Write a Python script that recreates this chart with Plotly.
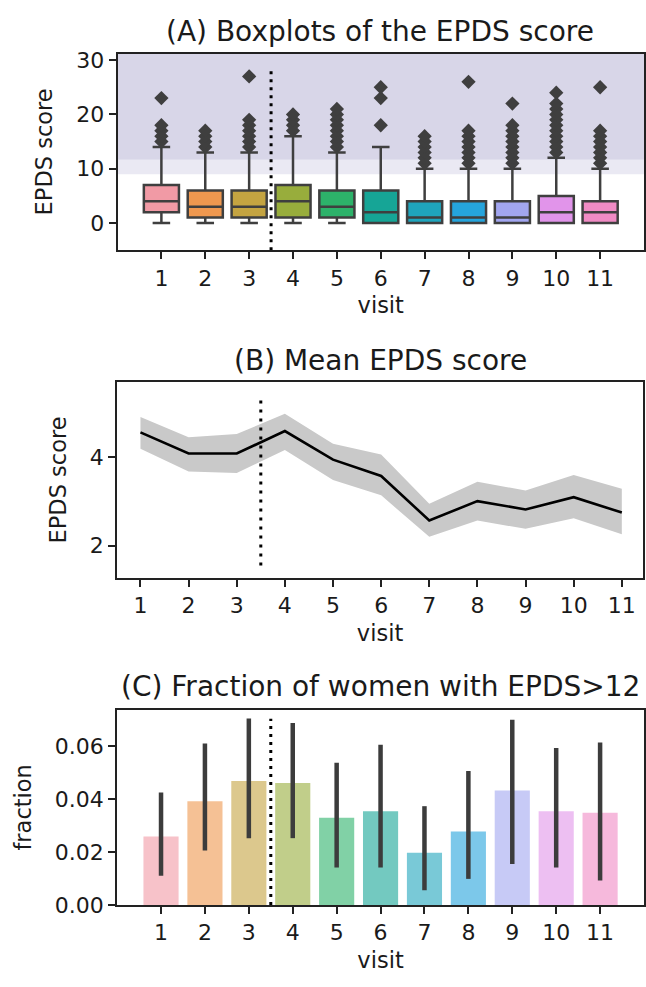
import plotly.graph_objects as go

# ---------------- data ----------------
visits = [1, 2, 3, 4, 5, 6, 7, 8, 9, 10, 11]

# (A) box-plot statistics per visit
box_q1 = [2, 1, 1, 1, 1, 0, 0, 0, 0, 0, 0]
box_median = [4, 3, 3, 4, 3, 2, 1, 1, 1, 2, 2]
box_q3 = [7, 6, 6, 7, 6, 6, 4, 4, 4, 5, 4]
box_low = [0, 0, 0, 0, 0, 0, 0, 0, 0, 0, 0]
box_high = [14, 13, 13, 16, 13, 14, 10, 10, 10, 12, 10]
box_outliers = [
    [15, 16, 17, 18, 23],
    [14, 15, 16, 17],
    [14, 15, 16, 17, 18, 19, 27],
    [17, 18, 19, 20],
    [14, 15, 16, 17, 18, 19, 20, 21],
    [18, 23, 25],
    [11, 12, 13, 14, 15, 16],
    [11, 12, 13, 14, 15, 16, 17, 26],
    [11, 12, 13, 14, 15, 16, 17, 18, 22],
    [13, 14, 15, 16, 17, 18, 19, 20, 21, 22, 24],
    [11, 12, 13, 14, 15, 16, 17, 25],
]
shade_low = 9
shade_high = 11.7

# (B) mean EPDS score with confidence band
mean_score = [4.57, 4.09, 4.09, 4.60, 3.95, 3.58, 2.57, 3.01, 2.82, 3.10, 2.75]
mean_upper = [4.92, 4.46, 4.53, 4.99, 4.31, 4.07, 2.95, 3.45, 3.25, 3.60, 3.29]
mean_lower = [4.20, 3.68, 3.65, 4.17, 3.49, 3.14, 2.20, 2.57, 2.38, 2.62, 2.26]

# (C) fraction of women with EPDS>12 and error-bar limits
frac = [0.0259, 0.0393, 0.0469, 0.0462, 0.0330, 0.0355, 0.0198, 0.0278, 0.0433, 0.0355, 0.0349]
frac_hi = [0.0426, 0.0611, 0.0706, 0.0689, 0.0538, 0.0606, 0.0374, 0.0507, 0.0701, 0.0594, 0.0615]
frac_lo = [0.0111, 0.0206, 0.0253, 0.0253, 0.0142, 0.0142, 0.0056, 0.0099, 0.0155, 0.0142, 0.0093]

yticks_a = [0, 10, 20, 30]
yticks_b = [2, 4]
yticks_c = [0.0, 0.02, 0.04, 0.06]

# ---------------- style ----------------
palette = ['#f19aa5', '#ef984f', '#c4a441', '#98ad3c', '#2db26a', '#16a596',
           '#1fa5bd', '#25a4dc', '#a2a6f0', '#e194ea', '#f08bc4']
EDGE = '#3f3f3f'
FONT = 'DejaVu Sans'
W, H = 646, 987


def rgba(hexc, a):
    h = hexc.lstrip('#')
    r, g, b = int(h[0:2], 16), int(h[2:4], 16), int(h[4:6], 16)
    return f'rgba({r},{g},{b},{a})'


def ydom(top_px, bot_px):
    return [1 - bot_px / H, 1 - top_px / H]


fig = go.Figure()

# ---- panel A: boxes ----
for i, v in enumerate(visits):
    fig.add_trace(go.Box(
        x=[v], q1=[box_q1[i]], median=[box_median[i]], q3=[box_q3[i]],
        lowerfence=[box_low[i]], upperfence=[box_high[i]],
        fillcolor=palette[i], line=dict(color=EDGE, width=2.5),
        width=0.8, whiskerwidth=0.5, boxpoints=False,
        xaxis='x', yaxis='y', showlegend=False, hoverinfo='skip'))
    fig.add_trace(go.Scatter(
        x=[v] * len(box_outliers[i]), y=box_outliers[i], mode='markers',
        marker=dict(symbol='diamond', size=11, color=EDGE, line=dict(width=0)),
        xaxis='x', yaxis='y', showlegend=False, hoverinfo='skip'))

A_RANGE_Y = [-5, 31.2]
fig.add_shape(type='rect', xref='x', yref='y', x0=0, x1=12, y0=shade_low, y1=A_RANGE_Y[1],
              fillcolor='rgba(117,107,177,0.15)', line=dict(width=0), layer='below')
fig.add_shape(type='rect', xref='x', yref='y', x0=0, x1=12, y0=shade_high, y1=A_RANGE_Y[1],
              fillcolor='rgba(117,107,177,0.15)', line=dict(width=0), layer='below')
fig.add_trace(go.Scatter(x=[3.5, 3.5], y=[A_RANGE_Y[0], 28.4], mode='lines',
                         line=dict(color='black', width=3, dash='3px,5px'),
                         xaxis='x', yaxis='y', showlegend=False, hoverinfo='skip'))

# ---- panel B: mean line with band ----
fig.add_trace(go.Scatter(x=visits, y=mean_lower, mode='lines', line=dict(width=0, color='#c9c9c9'),
                         xaxis='x2', yaxis='y2', showlegend=False, hoverinfo='skip'))
fig.add_trace(go.Scatter(x=visits, y=mean_upper, mode='lines', line=dict(width=0, color='#c9c9c9'),
                         fill='tonexty', fillcolor='#c9c9c9',
                         xaxis='x2', yaxis='y2', showlegend=False, hoverinfo='skip'))
fig.add_trace(go.Scatter(x=visits, y=mean_score, mode='lines', line=dict(width=2.6, color='black'),
                         xaxis='x2', yaxis='y2', showlegend=False, hoverinfo='skip'))
fig.add_trace(go.Scatter(x=[3.5, 3.5], y=[1.55, 5.35], mode='lines',
                         line=dict(color='black', width=3, dash='3px,6px'),
                         xaxis='x2', yaxis='y2', showlegend=False, hoverinfo='skip'))

# ---- panel C: bars with error bars ----
fig.add_trace(go.Bar(
    x=visits, y=frac, width=0.8,
    marker=dict(color=[rgba(c, 0.6) for c in palette], line=dict(width=0)),
    error_y=dict(type='data', symmetric=False,
                 array=[h - f for h, f in zip(frac_hi, frac)],
                 arrayminus=[f - l for f, l in zip(frac, frac_lo)],
                 color='#3c3c3c', thickness=4.5, width=0),
    xaxis='x3', yaxis='y3', showlegend=False, hoverinfo='skip'))
fig.add_trace(go.Scatter(x=[3.5, 3.5], y=[0, 0.0705], mode='lines',
                         line=dict(color='black', width=3, dash='3px,5px'),
                         xaxis='x3', yaxis='y3', showlegend=False, hoverinfo='skip'))

# ---------------- axes ----------------
tickfont = dict(family=FONT, size=22, color='#1a1a1a')
titlefont = dict(family=FONT, size=22.5, color='#1a1a1a')
common = dict(showline=True, mirror=True, linecolor='#222', linewidth=1.8,
              ticks='outside', ticklen=7, tickwidth=1.8, tickcolor='#222',
              showgrid=False, zeroline=False, tickfont=tickfont)

xt = dict(tickmode='array', tickvals=visits, ticktext=[str(v) for v in visits])

fig.update_layout(
    width=W, height=H, margin=dict(l=0, r=0, t=0, b=0),
    paper_bgcolor='white', plot_bgcolor='white', boxmode='overlay',
    font=dict(family=FONT, color='#1a1a1a'),
    xaxis=dict(domain=[117.7 / W, 645 / W], range=[0, 12], anchor='y',
               title=dict(text='visit', font=titlefont, standoff=8), **xt, **common),
    yaxis=dict(domain=ydom(48.5, 249), range=A_RANGE_Y, anchor='x',
               tickvals=yticks_a, title=dict(text='EPDS score', font=titlefont, standoff=17), **common),
    xaxis2=dict(domain=[117.3 / W, 644 / W], range=[0.515, 11.44], anchor='y2',
                title=dict(text='visit', font=titlefont, standoff=8), **xt, **common),
    yaxis2=dict(domain=ydom(383.5, 583), range=[1.27, 5.71], anchor='x2',
                tickvals=yticks_b, title=dict(text='EPDS score', font=titlefont, standoff=17), **common),
    xaxis3=dict(domain=[117.3 / W, 645 / W], range=[0, 12], anchor='y3',
                title=dict(text='visit', font=titlefont, standoff=8), **xt, **common),
    yaxis3=dict(domain=ydom(717.5, 916.7), range=[0, 0.0739], anchor='x3',
                tickvals=yticks_c, tickformat='.2f',
                title=dict(text='fraction', font=titlefont, standoff=17), **common),
)

titles = [('(A) Boxplots of the EPDS score', 26),
          ('(B) Mean EPDS score', 361),
          ('(C) Fraction of women with EPDS>12', 694)]
for txt, ypx in titles:
    fig.add_annotation(text=txt, xref='paper', yref='paper', x=381 / W, y=1 - ypx / H,
                       xanchor='center', yanchor='middle', showarrow=False,
                       font=dict(family=FONT, size=28, color='#1a1a1a'))

fig.write_html(
    "out.html",
    config={'displayModeBar': False},
    post_script="document.body.style.margin='0px';"
                "document.body.style.overflow='hidden';"
                "document.documentElement.style.overflow='hidden';",
)
